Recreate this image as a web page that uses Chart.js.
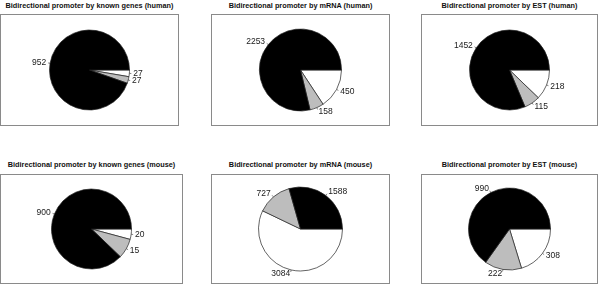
<!DOCTYPE html>
<html>
<head>
<meta charset="utf-8">
<script src="https://cdn.jsdelivr.net/npm/chart.js@4"></script>
<style>
  html, body { margin: 0; padding: 0; background: #fff; }
  body { width: 600px; height: 284px; position: relative; overflow: hidden; font-family: "Liberation Sans", Arial, sans-serif; }
  .ttl { position: absolute; font-weight: bold; font-size: 7.3px; color: #111; text-align: center; white-space: nowrap; transform: translateX(-50%); }
  .box { position: absolute; border: 1px solid #8a8a8a; box-sizing: border-box; }
  .box canvas { position: absolute; left: 0; top: 0; }
</style>
</head>
<body>
<script>
// Slice order as in the R pie: counter-clockwise from 3 o'clock -> black, grey, white
const SLICE_COLORS = ['#000000', '#bdbdbd', '#ffffff'];

const TITLES = [
  'Bidirectional promoter by known genes (human)',
  'Bidirectional promoter by mRNA (human)',
  'Bidirectional promoter by EST (human)',
  'Bidirectional promoter by known genes (mouse)',
  'Bidirectional promoter by mRNA (mouse)',
  'Bidirectional promoter by EST (mouse)',
];

// printed counts (slice labels)
const KNOWN_HUMAN = [952, 27, 27];
const MRNA_HUMAN = [2253, 158, 450];
const EST_HUMAN = [1452, 115, 218];
const KNOWN_MOUSE = [900, 15, 20];
const MRNA_MOUSE = [1588, 727, 3084];
const EST_MOUSE = [990, 222, 308];

// slice sizes as drawn; known genes (mouse) slices are wider than its labels say
const KNOWN_MOUSE_DRAWN = [900, 82, 43];

const LABELS = [KNOWN_HUMAN, MRNA_HUMAN, EST_HUMAN, KNOWN_MOUSE, MRNA_MOUSE, EST_MOUSE];
const SLICES = [KNOWN_HUMAN, MRNA_HUMAN, EST_HUMAN, KNOWN_MOUSE_DRAWN, MRNA_MOUSE, EST_MOUSE];

// ── Panel placement (box left/top/width/height, title y, pie radius) ──────────
const PANELS = [
  { x: 0,   y: 14,  w: 179, h: 112, ty: 1,   r: 40 },
  { x: 211, y: 14,  w: 179, h: 112, ty: 1,   r: 41 },
  { x: 421, y: 14,  w: 177, h: 112, ty: 1,   r: 40 },
  { x: 0,   y: 174, w: 183, h: 110, ty: 160, r: 40 },
  { x: 211, y: 174, w: 179, h: 110, ty: 160, r: 42 },
  { x: 421, y: 174, w: 177, h: 110, ty: 160, r: 41 },
];

// outside labels with short tick lines, R style
const pieLabels = {
  id: 'pieLabels',
  afterDatasetsDraw(chart, args, opts) {
    const ctx = chart.ctx;
    const meta = chart.getDatasetMeta(0);
    const texts = opts.texts;
    ctx.save();
    ctx.font = '8.5px "Liberation Sans", Arial, sans-serif';
    ctx.fillStyle = '#1a1a1a';
    ctx.strokeStyle = '#333';
    ctx.lineWidth = 0.6;
    ctx.textBaseline = 'middle';
    meta.data.forEach((arc, i) => {
      const p = arc.getProps(['x', 'y', 'startAngle', 'endAngle', 'outerRadius'], true);
      const a = (p.startAngle + p.endAngle) / 2;
      const c = Math.cos(a), s = Math.sin(a);
      const r = p.outerRadius;
      ctx.beginPath();
      ctx.moveTo(p.x + c * r, p.y + s * r);
      ctx.lineTo(p.x + c * r * 1.05, p.y + s * r * 1.05);
      ctx.stroke();
      ctx.textAlign = c >= 0 ? 'left' : 'right';
      ctx.fillText(String(texts[i]), p.x + c * r * 1.1, p.y + s * r * 1.1);
    });
    ctx.restore();
  },
};

PANELS.forEach((pn, k) => {
  const t = document.createElement('div');
  t.className = 'ttl';
  t.textContent = TITLES[k];
  t.style.left = (pn.x + pn.w / 2) + 'px';
  t.style.top = pn.ty + 'px';
  document.body.appendChild(t);

  const box = document.createElement('div');
  box.className = 'box';
  Object.assign(box.style, { left: pn.x + 'px', top: pn.y + 'px', width: pn.w + 'px', height: pn.h + 'px' });
  const cv = document.createElement('canvas');
  cv.width = pn.w - 2; cv.height = pn.h - 2;
  box.appendChild(cv);
  document.body.appendChild(box);

  // Chart.js draws clockwise, so reverse to get R's counter-clockwise order
  const vals = [...SLICES[k]].reverse();
  const texts = [...LABELS[k]].reverse();
  const cols = [...SLICE_COLORS].reverse();
  new Chart(cv, {
    type: 'pie',
    data: {
      labels: ['white', 'grey', 'black'],
      datasets: [{ data: vals, backgroundColor: cols, borderColor: '#222', borderWidth: 0.7, radius: pn.r }],
    },
    options: {
      responsive: false,
      animation: false,
      events: [],
      rotation: 90,
      layout: { padding: 0 },
      plugins: { legend: { display: false }, tooltip: { enabled: false }, pieLabels: { texts } },
    },
    plugins: [pieLabels],
  });
});
</script>
</body>
</html>
